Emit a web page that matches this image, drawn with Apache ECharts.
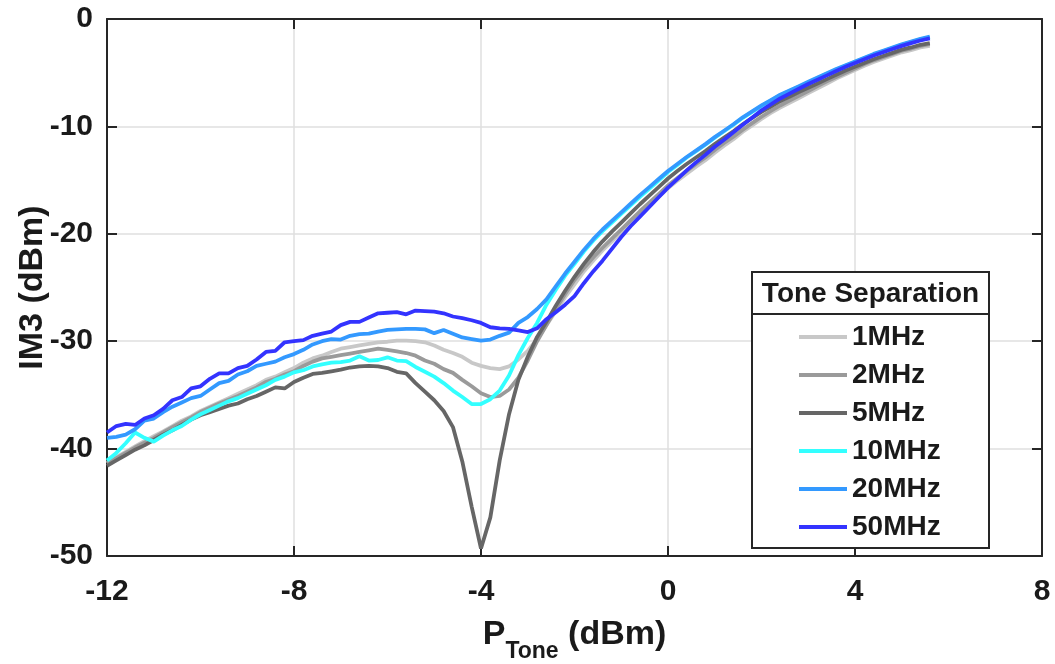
<!DOCTYPE html>
<html>
<head>
<meta charset="utf-8">
<title>IM3 vs tone power</title>
<script src="https://cdn.jsdelivr.net/npm/echarts@6/dist/echarts.min.js"></script>
<style>
  html, body { margin: 0; padding: 0; background: #ffffff; }
  #chart { width: 1055px; height: 664px; }
</style>
</head>
<body>
<div id="chart"></div>
<script>
// Tone power sweep (dBm), 0.2 dB steps
const pTone = [
  -12.0, -11.8, -11.6, -11.4, -11.2, -11.0, -10.8, -10.6, -10.4, -10.2,
  -10.0, -9.8, -9.6, -9.4, -9.2, -9.0, -8.8, -8.6, -8.4, -8.2,
  -8.0, -7.8, -7.6, -7.4, -7.2, -7.0, -6.8, -6.6, -6.4, -6.2,
  -6.0, -5.8, -5.6, -5.4, -5.2, -5.0, -4.8, -4.6, -4.4, -4.2,
  -4.0, -3.8, -3.6, -3.4, -3.2, -3.0, -2.8, -2.6, -2.4, -2.2,
  -2.0, -1.8, -1.6, -1.4, -1.2, -1.0, -0.8, -0.6, -0.4, -0.2,
  0.0, 0.2, 0.4, 0.6, 0.8, 1.0, 1.2, 1.4, 1.6, 1.8,
  2.0, 2.2, 2.4, 2.6, 2.8, 3.0, 3.2, 3.4, 3.6, 3.8,
  4.0, 4.2, 4.4, 4.6, 4.8, 5.0, 5.2, 5.4, 5.6
];

// Measured IM3 (dBm) for each tone separation
const im3_1MHz = [
  -41.3, -40.8, -40.3, -39.8, -39.3, -38.85, -38.4, -37.9, -37.4, -37.0,
  -36.5, -36.1, -35.7, -35.3, -34.9, -34.5, -34.1, -33.6, -33.3, -32.9,
  -32.5, -32.0, -31.6, -31.35, -31.0, -30.7, -30.55, -30.4, -30.25, -30.1,
  -30.05, -29.95, -29.95, -30.0, -30.1, -30.4, -30.8, -31.1, -31.45, -32.0,
  -32.3, -32.5, -32.6, -32.35, -31.7, -30.9, -29.8, -28.5, -27.2, -25.9,
  -24.7, -23.5, -22.5, -21.55, -20.7, -19.85, -19.0, -18.15, -17.35, -16.55,
  -15.75, -15.05, -14.4, -13.75, -13.15, -12.45, -11.8, -11.2, -10.5, -9.9,
  -9.3, -8.75, -8.25, -7.8, -7.35, -6.9, -6.45, -6.0, -5.55, -5.15,
  -4.75, -4.35, -4.0, -3.7, -3.4, -3.1, -2.9, -2.65, -2.5
];
const im3_2MHz = [
  -41.4, -40.9, -40.4, -39.9, -39.45, -39.0, -38.5, -38.0, -37.55, -37.1,
  -36.6, -36.2, -35.8, -35.45, -35.1, -34.7, -34.3, -33.8, -33.5, -33.1,
  -32.8, -32.3, -31.9, -31.6, -31.45, -31.3, -31.15, -31.0, -30.85, -30.7,
  -30.8, -30.95, -31.1, -31.35, -31.8, -32.1, -32.6, -32.95, -33.6, -34.2,
  -34.85, -35.2, -35.1, -34.5, -33.4, -31.8, -30.0, -28.5, -27.0, -25.6,
  -24.3, -23.2, -22.2, -21.3, -20.45, -19.6, -18.75, -17.9, -17.1, -16.3,
  -15.5, -14.8, -14.15, -13.5, -12.9, -12.2, -11.55, -10.95, -10.3, -9.7,
  -9.1, -8.55, -8.05, -7.6, -7.15, -6.7, -6.25, -5.8, -5.4, -5.0,
  -4.6, -4.2, -3.85, -3.55, -3.25, -2.95, -2.75, -2.5, -2.35
];
const im3_5MHz = [
  -41.6, -41.1, -40.6, -40.1, -39.7, -39.2, -38.7, -38.3, -37.8, -37.3,
  -36.9, -36.6, -36.3, -36.0, -35.8, -35.4, -35.1, -34.7, -34.3, -34.4,
  -33.8, -33.4, -33.05, -32.95, -32.8, -32.65, -32.45, -32.35, -32.3, -32.35,
  -32.5, -32.85, -33.0, -33.9, -34.7, -35.5, -36.5, -38.0, -41.2, -45.4,
  -49.3, -46.4, -41.1, -36.8, -33.6, -31.45, -29.6, -28.2, -26.7, -25.3,
  -24.0, -22.8, -21.7, -20.7, -19.8, -18.95, -18.1, -17.25, -16.45, -15.65,
  -14.85, -14.15, -13.5, -12.9, -12.3, -11.65, -11.05, -10.45, -9.8, -9.2,
  -8.65, -8.15, -7.65, -7.25, -6.8, -6.4, -6.0, -5.6, -5.2, -4.8,
  -4.45, -4.1, -3.75, -3.45, -3.15, -2.85, -2.65, -2.4, -2.25
];
const im3_10MHz = [
  -41.1, -40.4, -39.5, -38.5, -39.0, -39.35, -38.8, -38.3, -37.9, -37.3,
  -36.8, -36.4, -36.0, -35.6, -35.3, -34.9, -34.5, -34.1, -33.6, -33.3,
  -32.9, -32.7, -32.35, -32.15, -32.0, -31.95, -31.8, -31.4, -31.8, -31.75,
  -31.5, -31.8, -31.85, -32.4, -32.85, -33.3, -33.9, -34.6, -35.2, -35.85,
  -35.85, -35.4, -34.6, -33.2, -31.3, -29.7, -28.3, -26.6, -25.2, -23.9,
  -22.8, -21.65, -20.65, -19.75, -18.95, -18.15, -17.35, -16.55, -15.8, -15.05,
  -14.25, -13.6, -12.9, -12.3, -11.7, -11.05, -10.45, -9.85, -9.2, -8.65,
  -8.1, -7.6, -7.1, -6.7, -6.3, -5.9, -5.5, -5.1, -4.7, -4.35,
  -4.0, -3.65, -3.3, -3.0, -2.7, -2.4, -2.15, -1.9, -1.7
];
const im3_20MHz = [
  -39.0, -38.9, -38.7, -38.2, -37.4, -37.2, -36.6, -36.1, -35.7, -35.3,
  -35.1, -34.5, -33.9, -33.7, -33.1, -32.8, -32.3, -32.1, -31.9, -31.5,
  -31.2, -30.8, -30.3, -30.0, -29.8, -29.85, -29.5, -29.35, -29.3, -29.1,
  -28.95, -28.9, -28.85, -28.85, -28.9, -29.25, -28.95, -29.3, -29.65, -29.8,
  -29.95, -29.85, -29.5, -29.2, -28.3, -27.75, -27.0, -26.1, -24.9, -23.7,
  -22.6, -21.5, -20.5, -19.6, -18.8, -18.0, -17.2, -16.4, -15.65, -14.9,
  -14.15, -13.5, -12.85, -12.25, -11.65, -11.0, -10.4, -9.8, -9.15, -8.6,
  -8.05, -7.55, -7.05, -6.65, -6.25, -5.85, -5.45, -5.05, -4.65, -4.3,
  -3.95, -3.6, -3.25, -2.95, -2.65, -2.35, -2.1, -1.85, -1.65
];
const im3_50MHz = [
  -38.5, -37.9, -37.7, -37.8, -37.2, -36.9, -36.3, -35.5, -35.2, -34.4,
  -34.2, -33.5, -33.0, -33.0, -32.5, -32.3, -31.7, -31.0, -30.9, -30.1,
  -30.0, -29.9, -29.5, -29.3, -29.1, -28.5, -28.2, -28.2, -27.8, -27.4,
  -27.35, -27.3, -27.5, -27.15, -27.2, -27.25, -27.4, -27.7, -27.85, -28.05,
  -28.3, -28.7, -28.8, -28.85, -29.0, -29.15, -28.8, -27.95, -27.3, -26.6,
  -25.8, -24.6, -23.5, -22.5, -21.4, -20.3, -19.3, -18.4, -17.5, -16.6,
  -15.7, -14.9, -14.1, -13.35, -12.65, -11.9, -11.25, -10.55, -9.85, -9.2,
  -8.5, -7.95, -7.4, -6.95, -6.5, -6.05, -5.65, -5.25, -4.85, -4.45,
  -4.1, -3.75, -3.4, -3.1, -2.8, -2.5, -2.25, -2.0, -1.8
];

const seriesNames = ['1MHz', '2MHz', '5MHz', '10MHz', '20MHz', '50MHz'];
const seriesValues = [im3_1MHz, im3_2MHz, im3_5MHz, im3_10MHz, im3_20MHz, im3_50MHz];
const seriesColors = ['#c8c8c8', '#9a9a9a', '#666666', '#33ffff', '#3399ff', '#3333ff'];
const legendTitle = 'Tone Separation';

const FONT = '"Liberation Sans", Arial, Helvetica, sans-serif';
const INK = '#1a1a1a';
const AXIS_COLOR = '#262626';

const chart = echarts.init(document.getElementById('chart'), null, { renderer: 'canvas' });

// Top and right frame axes: ticks only, like a boxed plot
const frameAxis = {
  axisLine: { show: true, onZero: false, lineStyle: { color: AXIS_COLOR, width: 2 } },
  axisTick: { show: true, inside: true, length: 10, lineStyle: { color: AXIS_COLOR, width: 2 } },
  axisLabel: { show: false },
  splitLine: { show: false }
};

const option = {
  animation: false,
  backgroundColor: '#ffffff',
  grid: { left: 107, right: 13, top: 19, bottom: 108, containLabel: false, outerBoundsMode: 'none' },
  xAxis: [
    {
      type: 'value', min: -12, max: 8, interval: 4,
      name: '{p|P}{s|Tone}{p| (dBm)}',
      nameLocation: 'middle', nameGap: 62, nameMoveOverlap: false,
      nameTextStyle: {
        rich: {
          p: { fontFamily: FONT, fontWeight: 'bold', fontSize: 34, color: INK, verticalAlign: 'top', lineHeight: 34 },
          s: { fontFamily: FONT, fontWeight: 'bold', fontSize: 23, color: INK, verticalAlign: 'middle', lineHeight: 68 }
        }
      },
      axisLine: { show: true, onZero: false, lineStyle: { color: AXIS_COLOR, width: 2 } },
      axisTick: { show: true, inside: true, length: 10, lineStyle: { color: AXIS_COLOR, width: 2 } },
      axisLabel: { fontFamily: FONT, fontWeight: 'bold', fontSize: 30, color: INK, margin: 21 },
      splitLine: { show: true, lineStyle: { color: '#dfdfdf', width: 1.5 } }
    },
    Object.assign({ type: 'value', min: -12, max: 8, interval: 4, position: 'top' }, frameAxis)
  ],
  yAxis: [
    {
      type: 'value', min: -50, max: 0, interval: 10,
      name: 'IM3 (dBm)',
      nameLocation: 'middle', nameGap: 57, nameMoveOverlap: false,
      nameTextStyle: { fontFamily: FONT, fontWeight: 'bold', fontSize: 34, color: INK },
      axisLine: { show: true, onZero: false, lineStyle: { color: AXIS_COLOR, width: 2 } },
      axisTick: { show: true, inside: true, length: 10, lineStyle: { color: AXIS_COLOR, width: 2 } },
      axisLabel: { fontFamily: FONT, fontWeight: 'bold', fontSize: 30, color: INK, margin: 14 },
      splitLine: { show: true, lineStyle: { color: '#dfdfdf', width: 1.5 } }
    },
    Object.assign({ type: 'value', min: -50, max: 0, interval: 10, position: 'right' }, frameAxis)
  ],
  legend: {
    orient: 'vertical',
    left: 794, top: 317,
    itemWidth: 48, itemHeight: 14, itemGap: 8,
    icon: 'path://M0,6 L48,6 L48,10 L0,10 Z',
    textStyle: { fontFamily: FONT, fontWeight: 'bold', fontSize: 28, color: INK, lineHeight: 30 },
    data: seriesNames,
    z: 120
  },
  graphic: [
    {
      type: 'rect', z: 100,
      shape: { x: 752, y: 272, width: 237, height: 276 },
      style: { fill: '#ffffff', stroke: AXIS_COLOR, lineWidth: 2 }
    },
    {
      type: 'line', z: 101,
      shape: { x1: 752, y1: 314, x2: 989, y2: 314 },
      style: { stroke: AXIS_COLOR, lineWidth: 2 }
    },
    {
      type: 'text', z: 101,
      x: 870.5, y: 294,
      style: {
        text: legendTitle, fontFamily: FONT, fontWeight: 'bold', fontSize: 28,
        fill: INK, align: 'center', verticalAlign: 'middle'
      }
    }
  ],
  series: seriesNames.map((name, k) => ({
    name: name,
    type: 'line',
    showSymbol: false,
    symbol: 'none',
    color: seriesColors[k],
    lineStyle: { color: seriesColors[k], width: 3.8 },
    itemStyle: { color: seriesColors[k] },
    data: pTone.map((x, i) => [x, seriesValues[k][i]]),
    z: 2 + k
  }))
};

chart.setOption(option);
</script>
</body>
</html>
